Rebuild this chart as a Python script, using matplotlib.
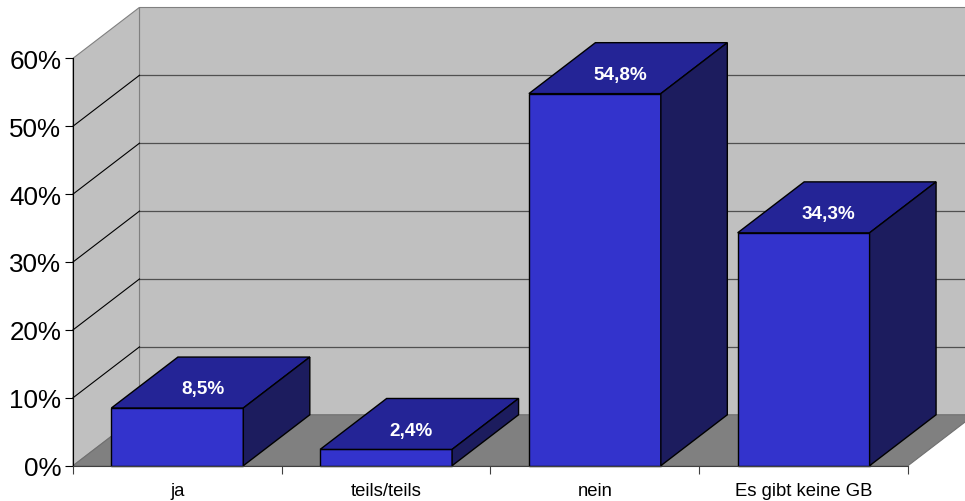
import matplotlib.pyplot as plt
from matplotlib.patches import Polygon

plt.rcParams['font.family'] = ['Liberation Sans', 'DejaVu Sans']

categories = ['ja', 'teils/teils', 'nein', 'Es gibt keine GB']
values = [8.5, 2.4, 54.8, 34.3]
yticks = [0, 10, 20, 30, 40, 50, 60]

# pseudo 3d depth offset (x in category units, y in percent)
dx, dy = 0.3185, 7.5
bar_w = 0.632
bar_off = (1 - bar_w) / 2
ymax = yticks[-1]
n = len(categories)

front_col = '#3333CC'
top_col = '#242496'
side_col = '#1C1C5E'
wall_col = '#C0C0C0'
floor_col = '#808080'

fig = plt.figure(figsize=(9.65, 5.02), dpi=100)
ax = fig.add_axes([73 / 965, 35.3 / 502, 835 / 965, 407.4 / 502])
ax.set_xlim(0, n)
ax.set_ylim(0, ymax)


def poly(pts, fc, ec, lw=0.8, z=1):
    ax.add_patch(Polygon(pts, closed=True, facecolor=fc, edgecolor=ec,
                         linewidth=lw, zorder=z, clip_on=False))


# walls and floor
poly([(dx, dy), (dx, ymax + dy), (n + dx + 1, ymax + dy), (n + dx + 1, dy)],
     wall_col, '#808080', z=0)
poly([(0, 0), (0, ymax), (dx, ymax + dy), (dx, dy)], wall_col, '#808080', z=0)
for v in yticks[1:-1]:
    ax.plot([dx, n + dx + 1], [v + dy, v + dy], color='#505050', lw=0.9,
            zorder=0.5, clip_on=False)
    ax.plot([0, dx], [v, v + dy], color='black', lw=0.8, zorder=0.5,
            clip_on=False)
poly([(0, 0), (n, 0), (n + dx, dy), (dx, dy)], floor_col, '#707070', z=0.6)

# bars
for i, v in enumerate(values):
    x0 = i + bar_off
    x1 = x0 + bar_w
    poly([(x0, 0), (x1, 0), (x1, v), (x0, v)], front_col, 'black', 1.0, 2)
    poly([(x0, v), (x1, v), (x1 + dx, v + dy), (x0 + dx, v + dy)],
         top_col, 'black', 1.0, 2)
    poly([(x1, 0), (x1, v), (x1 + dx, v + dy), (x1 + dx, dy)],
         side_col, 'black', 1.0, 2)
    f = 0.38
    ax.text(x0 + bar_w / 2 + f * dx, v + f * dy,
            f'{v:.1f}'.replace('.', ',') + '%', color='white',
            fontsize=13.6, fontweight='bold', ha='center', va='center',
            zorder=3, clip_on=False)

# axes
for s in ['top', 'right']:
    ax.spines[s].set_visible(False)
ax.spines['left'].set_color('black')
ax.spines['left'].set_zorder(4)
ax.spines['bottom'].set_color('#404040')
ax.spines['bottom'].set_zorder(4)
ax.set_yticks(yticks)
ax.set_yticklabels([f'{t}%' for t in yticks])
ax.tick_params(axis='y', length=6, width=0.8, pad=2.5, labelsize=18.7)
ax.set_xticks(range(n + 1))
ax.set_xticklabels([])
ax.set_xticks([i + 0.5 for i in range(n)], minor=True)
ax.set_xticklabels(categories, minor=True)
ax.tick_params(axis='x', which='major', length=6, width=0.8, color='#404040')
ax.tick_params(axis='x', which='minor', length=0, pad=11.5, labelsize=13.3)
ax.set_facecolor('none')

fig.savefig('out.png', dpi=100)
